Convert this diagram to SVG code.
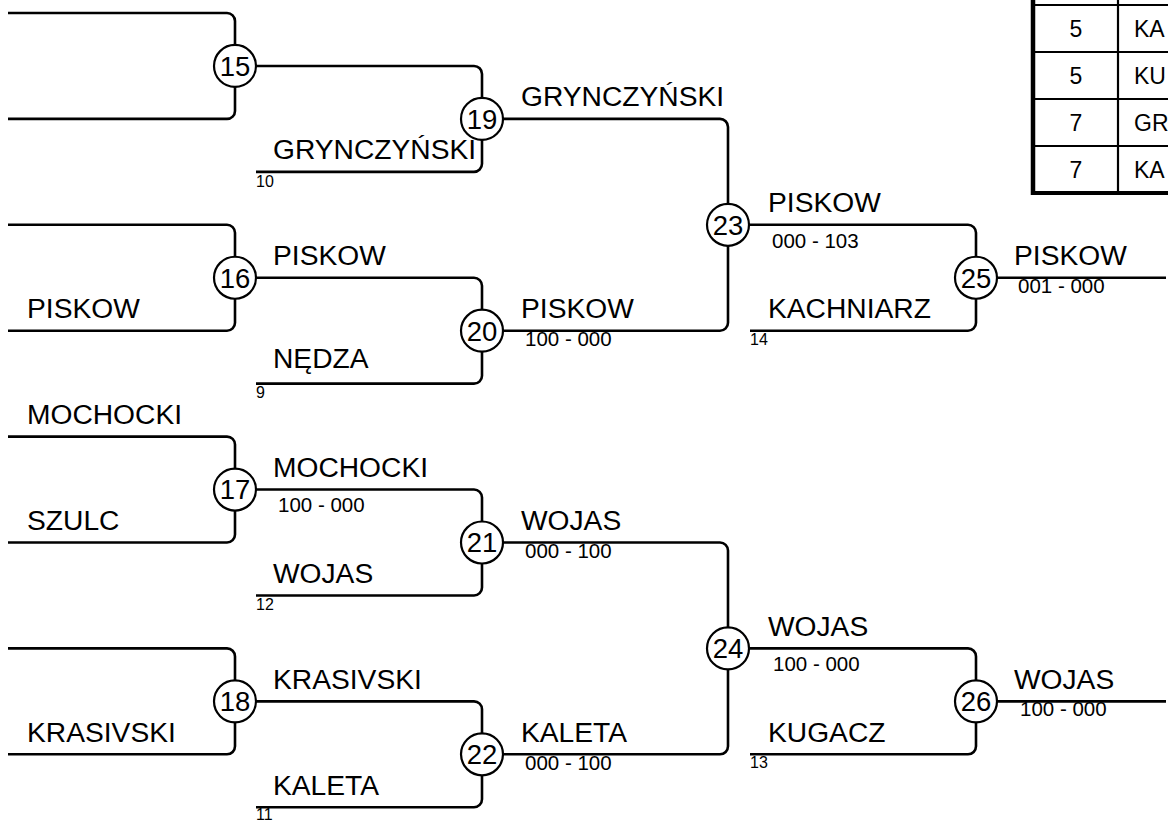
<svg xmlns="http://www.w3.org/2000/svg" width="1168" height="821" viewBox="0 0 1168 821">
<style>
.ln{fill:none;stroke:#000;stroke-width:2.6;stroke-linejoin:round}
.c{fill:#fff;stroke:#000;stroke-width:2.2}
.cn{font-family:"Liberation Sans",Arial,sans-serif;font-size:27.5px;text-anchor:middle;fill:#000}
.nm{font-family:"Liberation Sans",Arial,sans-serif;font-size:28.2px;fill:#000}
.sc{font-family:"Liberation Sans",Arial,sans-serif;font-size:20.5px;fill:#000}
.sd{font-family:"Liberation Sans",Arial,sans-serif;font-size:16px;fill:#000}
.tb{font-family:"Liberation Sans",Arial,sans-serif;font-size:23px;fill:#000}
.tl{stroke:#000;stroke-width:2.2}
</style>
<rect width="1168" height="821" fill="#fff"/>
<g id="connectors">
<path class="ln" d="M8 13 H227 A8 8 0 0 1 235 21 V110.9 A8 8 0 0 1 227 118.9 H8"/>
<path class="ln" d="M8 224.8 H227 A8 8 0 0 1 235 232.8 V322.7 A8 8 0 0 1 227 330.7 H8"/>
<path class="ln" d="M8 436.6 H227 A8 8 0 0 1 235 444.6 V534.5 A8 8 0 0 1 227 542.5 H8"/>
<path class="ln" d="M8 648.4 H227 A8 8 0 0 1 235 656.4 V746.3 A8 8 0 0 1 227 754.3 H8"/>
<path class="ln" d="M235 65.95 H474 A8 8 0 0 1 482 73.95 V163.85 A8 8 0 0 1 474 171.85 H256"/>
<path class="ln" d="M235 277.75 H474 A8 8 0 0 1 482 285.75 V375.65 A8 8 0 0 1 474 383.65 H256"/>
<path class="ln" d="M235 489.55 H474 A8 8 0 0 1 482 497.55 V587.45 A8 8 0 0 1 474 595.45 H256"/>
<path class="ln" d="M235 701.35 H474 A8 8 0 0 1 482 709.35 V799.25 A8 8 0 0 1 474 807.25 H256"/>
<path class="ln" d="M482 118.9 H720 A8 8 0 0 1 728 126.9 V322.7 A8 8 0 0 1 720 330.7 H482"/>
<path class="ln" d="M482 542.5 H720 A8 8 0 0 1 728 550.5 V746.3 A8 8 0 0 1 720 754.3 H482"/>
<path class="ln" d="M728 224.8 H968 A8 8 0 0 1 976 232.8 V322.7 A8 8 0 0 1 968 330.7 H750"/>
<path class="ln" d="M728 648.4 H968 A8 8 0 0 1 976 656.4 V746.3 A8 8 0 0 1 968 754.3 H750"/>
<path class="ln" d="M976 277.75 H1166"/>
<path class="ln" d="M976 701.35 H1166"/>
</g>
<g id="m15"><circle class="c" cx="235" cy="65.95" r="21"/><text class="cn" x="235" y="75.8">15</text></g>
<g id="m16"><circle class="c" cx="235" cy="277.75" r="21"/><text class="cn" x="235" y="287.6">16</text></g>
<g id="m17"><circle class="c" cx="235" cy="489.55" r="21"/><text class="cn" x="235" y="499.4">17</text></g>
<g id="m18"><circle class="c" cx="235" cy="701.35" r="21"/><text class="cn" x="235" y="711.2">18</text></g>
<g id="m19"><circle class="c" cx="482" cy="118.9" r="21"/><text class="cn" x="482" y="128.8">19</text></g>
<g id="m20"><circle class="c" cx="482" cy="330.7" r="21"/><text class="cn" x="482" y="340.6">20</text></g>
<g id="m21"><circle class="c" cx="482" cy="542.5" r="21"/><text class="cn" x="482" y="552.4">21</text></g>
<g id="m22"><circle class="c" cx="482" cy="754.3" r="21"/><text class="cn" x="482" y="764.2">22</text></g>
<g id="m23"><circle class="c" cx="728" cy="224.8" r="21"/><text class="cn" x="728" y="234.7">23</text></g>
<g id="m24"><circle class="c" cx="728" cy="648.4" r="21"/><text class="cn" x="728" y="658.3">24</text></g>
<g id="m25"><circle class="c" cx="976" cy="277.75" r="21"/><text class="cn" x="976" y="287.6">25</text></g>
<g id="m26"><circle class="c" cx="976" cy="701.35" r="21"/><text class="cn" x="976" y="711.2">26</text></g>
<g id="labels">
<text class="nm" x="27" y="318">PISKOW</text>
<text class="nm" x="27" y="424">MOCHOCKI</text>
<text class="nm" x="27" y="530">SZULC</text>
<text class="nm" x="27" y="742">KRASIVSKI</text>
<text class="nm" x="273" y="159">GRYNCZYŃSKI</text>
<text class="nm" x="273" y="265">PISKOW</text>
<text class="nm" x="273" y="368">NĘDZA</text>
<text class="nm" x="273" y="477">MOCHOCKI</text>
<text class="nm" x="273" y="583">WOJAS</text>
<text class="nm" x="273" y="689">KRASIVSKI</text>
<text class="nm" x="273" y="795">KALETA</text>
<text class="nm" x="521" y="106">GRYNCZYŃSKI</text>
<text class="nm" x="521" y="318">PISKOW</text>
<text class="nm" x="521" y="530">WOJAS</text>
<text class="nm" x="521" y="742">KALETA</text>
<text class="nm" x="768" y="212">PISKOW</text>
<text class="nm" x="768" y="318">KACHNIARZ</text>
<text class="nm" x="768" y="636">WOJAS</text>
<text class="nm" x="768" y="742">KUGACZ</text>
<text class="nm" x="1014" y="265">PISKOW</text>
<text class="nm" x="1014" y="689">WOJAS</text>
<text class="sc" x="278" y="512">100 - 000</text>
<text class="sc" x="525" y="346">100 - 000</text>
<text class="sc" x="525" y="558">000 - 100</text>
<text class="sc" x="525" y="770">000 - 100</text>
<text class="sc" x="772" y="248">000 - 103</text>
<text class="sc" x="773" y="671">100 - 000</text>
<text class="sc" x="1018" y="293">001 - 000</text>
<text class="sc" x="1020" y="716">100 - 000</text>
<text class="sd" x="256" y="187">10</text>
<text class="sd" x="256" y="398">9</text>
<text class="sd" x="256" y="610">12</text>
<text class="sd" x="256" y="820">11</text>
<text class="sd" x="750" y="345">14</text>
<text class="sd" x="750" y="768">13</text>
</g>
<g id="table">
<rect x="1033" y="-5" width="140" height="198" fill="#fff"/>
<line class="tl" x1="1033" y1="5" x2="1168" y2="5"/>
<line class="tl" x1="1033" y1="52" x2="1168" y2="52"/>
<line class="tl" x1="1033" y1="99" x2="1168" y2="99"/>
<line class="tl" x1="1033" y1="146" x2="1168" y2="146"/>
<line class="tl" x1="1118" y1="0" x2="1118" y2="193"/>
<line x1="1033" y1="0" x2="1033" y2="195" stroke="#000" stroke-width="4.5"/>
<line x1="1031" y1="193" x2="1168" y2="193" stroke="#000" stroke-width="4"/>
<text class="tb" x="1076" y="37" text-anchor="middle">5</text>
<text class="tb" x="1076" y="84" text-anchor="middle">5</text>
<text class="tb" x="1076" y="131" text-anchor="middle">7</text>
<text class="tb" x="1076" y="178" text-anchor="middle">7</text>
<text class="tb" x="1134" y="37">KA</text>
<text class="tb" x="1134" y="84">KU</text>
<text class="tb" x="1134" y="131">GR</text>
<text class="tb" x="1134" y="178">KA</text>
</g>
</svg>
